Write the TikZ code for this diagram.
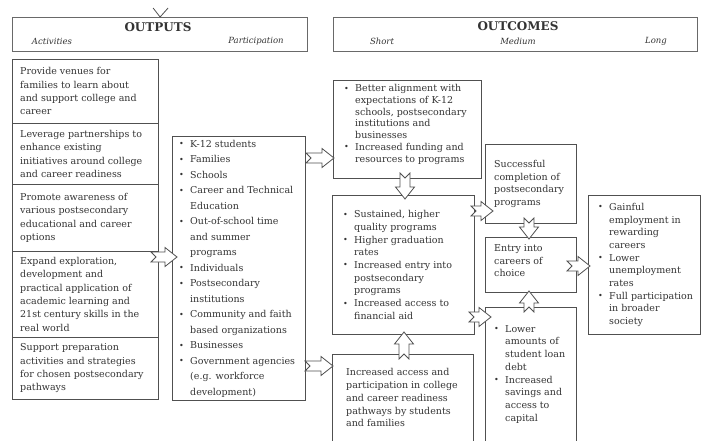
\documentclass[tikz,border=0pt]{standalone}
\usepackage{fontspec}
\setmainfont{DejaVu Serif}
\usepackage{graphicx}
\usetikzlibrary{calc}
\definecolor{ln}{RGB}{80,80,80}
\definecolor{hl}{RGB}{105,105,105}
\definecolor{tx}{RGB}{52,52,52}
\newcommand{\bul}{\raisebox{0.1ex}{\scalebox{0.85}{\textbullet}}}
\newcommand{\bi}{\makebox[11pt][l]{\bul}}
\newcommand{\ci}{\makebox[11pt]{}}
\begin{document}
\begin{tikzpicture}[x=1pt,y=-1pt,
  box/.style={draw=ln, line width=0.8pt, inner sep=0pt, anchor=north west},
  openbox/.style={draw=none, inner sep=0pt, anchor=north west},
  hbox/.style={draw=hl, line width=1.2pt, inner sep=0pt, anchor=north west},
  txt/.style={text=tx, align=left, inner sep=0pt, anchor=west, font=\fontsize{9.5}{#1}\selectfont},
  ttl/.style={text=tx, inner sep=0pt, font=\bfseries\fontsize{12}{14}\selectfont},
  sub/.style={text=tx, inner sep=0pt, font=\itshape\fontsize{8.5}{10}\selectfont},
  barrow/.style={draw=ln, fill=white, line width=0.8pt, line join=miter, to path={
    ($(\tikztostart)!5pt!90:(\tikztotarget)$)
    -- ($(\tikztotarget)!12pt!(\tikztostart)!5pt!-90:(\tikztostart)$)
    -- ($(\tikztotarget)!12pt!(\tikztostart)!9.5pt!-90:(\tikztostart)$)
    -- (\tikztotarget)
    -- ($(\tikztotarget)!12pt!(\tikztostart)!9.5pt!90:(\tikztostart)$)
    -- ($(\tikztotarget)!12pt!(\tikztostart)!5pt!90:(\tikztostart)$)
    -- ($(\tikztostart)!5pt!-90:(\tikztotarget)$)
    -- ($(\tikztostart)!5pt!(\tikztotarget)$)
    -- cycle}}
]
\useasboundingbox (0,0) rectangle (704,441);
\fill[white] (0,0) rectangle (704,441);

% headers
\node[hbox, minimum width=295pt, minimum height=34pt] (hdr1) at (12,17) {};
\node[hbox, minimum width=364pt, minimum height=34pt] (hdr2) at (333,17) {};
\draw[ln, line width=0.8pt] ($(hdr1.north)+(-7,-9)$) -- (hdr1.north) -- ($(hdr1.north)+(8,-9)$);
\node[ttl] (ttl1) at (158,27) {OUTPUTS};
\node[ttl] (ttl2) at (518,26) {OUTCOMES};
\node[sub] (sb1) at (52,41) {Activities};
\node[sub] (sb2) at (256,41) {Participation};
\node[sub] (sb3) at (382,41) {Short};
\node[sub] (sb4) at (518,41) {Medium};
\node[sub] (sb5) at (656,41) {Long};

% activities
\node[box, minimum width=146pt, minimum height=64pt] (act1) at (12,59) {};
\node[box, minimum width=146pt, minimum height=61pt] (act2) at (12,123) {};
\node[box, minimum width=146pt, minimum height=67pt] (act3) at (12,184) {};
\node[box, minimum width=146pt, minimum height=86pt] (act4) at (12,251) {};
\node[box, minimum width=146pt, minimum height=62pt] (act5) at (12,337) {};
\node[txt=13.3] (tact1) at ([xshift=8pt]act1.west) {Provide venues for\\families to learn about\\and support college and\\career};
\node[txt=13.3] (tact2) at ([xshift=8pt]act2.west) {Leverage partnerships to\\enhance existing\\initiatives around college\\and career readiness};
\node[txt=13.3] (tact3) at ([xshift=8pt]act3.west) {Promote awareness of\\various postsecondary\\educational and career\\options};
\node[txt=13.3] (tact4) at ([xshift=8pt]act4.west) {Expand exploration,\\development and\\practical application of\\academic learning and\\21st century skills in the\\real world};
\node[txt=13.3] (tact5) at ([xshift=8pt]act5.west) {Support preparation\\activities and strategies\\for chosen postsecondary\\pathways};

% participation
\node[box, minimum width=133pt, minimum height=264pt] (part) at (172,136) {};
\node[txt=15.5] (tpart) at ([xshift=7pt]part.west) {\bi K-12 students\\\bi Families\\\bi Schools\\\bi Career and Technical\\\ci Education\\\bi Out-of-school time\\\ci and summer\\\ci programs\\\bi Individuals\\\bi Postsecondary\\\ci institutions\\\bi Community and faith\\\ci based organizations\\\bi Businesses\\\bi Government agencies\\\ci (e.g. workforce\\\ci development)};

% short
\node[box, minimum width=148pt, minimum height=98pt] (s1) at (333,80) {};
\node[txt=11.7] (ts1) at ([xshift=11pt,yshift=5pt]s1.west) {\bi Better alignment with\\\ci expectations of K-12\\\ci schools, postsecondary\\\ci institutions and\\\ci businesses\\\bi Increased funding and\\\ci resources to programs};
\node[box, minimum width=142pt, minimum height=139pt] (s2) at (332,195) {};
\node[txt=12.7] (ts2) at ([xshift=11pt]s2.west) {\bi Sustained, higher\\\ci quality programs\\\bi Higher graduation\\\ci rates\\\bi Increased entry into\\\ci postsecondary\\\ci programs\\\bi Increased access to\\\ci financial aid};
\node[openbox, minimum width=141pt, minimum height=87pt] (s3) at (332,354) {};
\draw[ln, line width=0.8pt] ([yshift=-6pt]s3.south west) -- (s3.north west) -- (s3.north east) -- ([yshift=-6pt]s3.south east);
\node[txt=12.8] (ts3) at ([xshift=14pt]s3.west) {Increased access and\\participation in college\\and career readiness\\pathways by students\\and families};

% medium
\node[box, minimum width=91pt, minimum height=79pt] (m1) at (485,144) {};
\node[txt=12.4] (tm1) at ([xshift=9pt]m1.west) {Successful\\completion of\\postsecondary\\programs};
\node[box, minimum width=91pt, minimum height=55pt] (m2) at (485,237) {};
\node[txt=12.6] (tm2) at ([xshift=9pt,yshift=4pt]m2.west) {Entry into\\careers of\\choice};
\node[openbox, minimum width=91pt, minimum height=134pt] (m3) at (485,307) {};
\draw[ln, line width=0.8pt] ([yshift=-6pt]m3.south west) -- (m3.north west) -- (m3.north east) -- ([yshift=-6pt]m3.south east);
\node[txt=12.7] (tm3) at ([xshift=9pt]m3.west) {\bi Lower\\\ci amounts of\\\ci student loan\\\ci debt\\\bi Increased\\\ci savings and\\\ci access to\\\ci capital};

% long
\node[box, minimum width=112pt, minimum height=139pt] (lg) at (588,195) {};
\node[txt=12.7] (tlg) at ([xshift=10pt]lg.west) {\bi Gainful\\\ci employment in\\\ci rewarding\\\ci careers\\\bi Lower\\\ci unemployment\\\ci rates\\\bi Full participation\\\ci in broader\\\ci society};

% arrow end points
\coordinate (a1s) at (151,257);  \coordinate (a1e) at (177,257);
\coordinate (a2s) at (306,158);  \coordinate (a2e) at (334,158);
\coordinate (a3s) at (305,366);  \coordinate (a3e) at (333,366);
\coordinate (a4s) at (405,173);  \coordinate (a4e) at (405,199);
\coordinate (a5s) at (404,359);  \coordinate (a5e) at (404,332);
\coordinate (a6s) at (471,211);  \coordinate (a6e) at (493,211);
\coordinate (a7s) at (469,317);  \coordinate (a7e) at (491,317);
\coordinate (a8s) at (529,218);  \coordinate (a8e) at (529,239);
\coordinate (a9s) at (529,312);  \coordinate (a9e) at (529,291);
\coordinate (a10s) at (567,266); \coordinate (a10e) at (590,266);
\draw[barrow] (a1s) to (a1e);
\draw[barrow] (a2s) to (a2e);
\draw[barrow] (a3s) to (a3e);
\draw[barrow] (a4s) to (a4e);
\draw[barrow] (a5s) to (a5e);
\draw[barrow] (a6s) to (a6e);
\draw[barrow] (a7s) to (a7e);
\draw[barrow] (a8s) to (a8e);
\draw[barrow] (a9s) to (a9e);
\draw[barrow] (a10s) to (a10e);
\end{tikzpicture}
\end{document}
